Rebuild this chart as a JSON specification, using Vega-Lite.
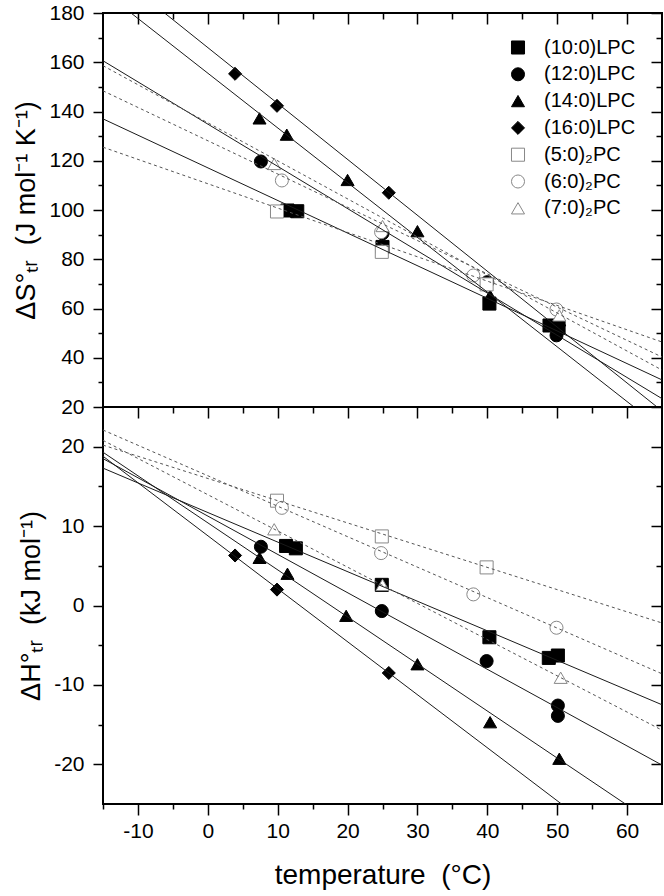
{
  "$schema": "https://vega.github.io/schema/vega-lite/v6.json",
  "usermeta": {"embedOptions": {"actions": false}},
  "padding": {"left": 11, "top": 1, "right": 3, "bottom": 0},
  "spacing": 0,
  "bounds": "flush",
  "config": {
    "font": "Liberation Sans",
    "view": {"stroke": "black", "strokeWidth": 2},
    "axis": {"labelFont": "Liberation Sans", "labelFontSize": 21, "labelColor": "black", "titleFont": "Liberation Sans", "titleFontSize": 27, "titleFontWeight": "normal", "titleColor": "black", "tickColor": "black", "tickWidth": 1.5, "grid": false, "domain": false},
    "legend": {"labelFont": "Liberation Sans", "labelFontSize": 20, "labelColor": "black"}
  },
  "resolve": {"scale": {"shape": "independent", "fill": "independent", "stroke": "independent"}},
  "datasets": {
    "fits": [
      {"panel": "S", "kind": "LPC", "series": "(10:0)LPC", "t": -15, "v": 137},
      {"panel": "S", "kind": "LPC", "series": "(10:0)LPC", "t": 65, "v": 31},
      {"panel": "S", "kind": "LPC", "series": "(12:0)LPC", "t": -15, "v": 160.6},
      {"panel": "S", "kind": "LPC", "series": "(12:0)LPC", "t": 65, "v": 23.4},
      {"panel": "S", "kind": "LPC", "series": "(14:0)LPC", "t": -15, "v": 188.9},
      {"panel": "S", "kind": "LPC", "series": "(14:0)LPC", "t": 65, "v": 11.1},
      {"panel": "S", "kind": "LPC", "series": "(16:0)LPC", "t": -15, "v": 200},
      {"panel": "S", "kind": "LPC", "series": "(16:0)LPC", "t": 65, "v": 18.4},
      {"panel": "S", "kind": "PC", "series": "(5:0)₂PC", "t": -15, "v": 125.5},
      {"panel": "S", "kind": "PC", "series": "(5:0)₂PC", "t": 65, "v": 46.4},
      {"panel": "S", "kind": "PC", "series": "(6:0)₂PC", "t": -15, "v": 148.4},
      {"panel": "S", "kind": "PC", "series": "(6:0)₂PC", "t": 65, "v": 40.3},
      {"panel": "S", "kind": "PC", "series": "(7:0)₂PC", "t": -15, "v": 158.6},
      {"panel": "S", "kind": "PC", "series": "(7:0)₂PC", "t": 65, "v": 35},
      {"panel": "H", "kind": "LPC", "series": "(10:0)LPC", "t": -15, "v": 17.3},
      {"panel": "H", "kind": "LPC", "series": "(10:0)LPC", "t": 65, "v": -12.5},
      {"panel": "H", "kind": "LPC", "series": "(12:0)LPC", "t": -15, "v": 18.5},
      {"panel": "H", "kind": "LPC", "series": "(12:0)LPC", "t": 65, "v": -20.1},
      {"panel": "H", "kind": "LPC", "series": "(14:0)LPC", "t": -15, "v": 19.3},
      {"panel": "H", "kind": "LPC", "series": "(14:0)LPC", "t": 65, "v": -28.1},
      {"panel": "H", "kind": "LPC", "series": "(16:0)LPC", "t": -15, "v": 18.8},
      {"panel": "H", "kind": "LPC", "series": "(16:0)LPC", "t": 65, "v": -34.6},
      {"panel": "H", "kind": "PC", "series": "(5:0)₂PC", "t": -15, "v": 20.2},
      {"panel": "H", "kind": "PC", "series": "(5:0)₂PC", "t": 65, "v": -2.2},
      {"panel": "H", "kind": "PC", "series": "(6:0)₂PC", "t": -15, "v": 22.1},
      {"panel": "H", "kind": "PC", "series": "(6:0)₂PC", "t": 65, "v": -8.6},
      {"panel": "H", "kind": "PC", "series": "(7:0)₂PC", "t": -15, "v": 20.8},
      {"panel": "H", "kind": "PC", "series": "(7:0)₂PC", "t": 65, "v": -15.7}
    ],
    "pts": [
      {"panel": "S", "series": "(10:0)LPC", "t": 11.4, "v": 99.8},
      {"panel": "S", "series": "(10:0)LPC", "t": 12.8, "v": 99.5},
      {"panel": "S", "series": "(10:0)LPC", "t": 25, "v": 85},
      {"panel": "S", "series": "(10:0)LPC", "t": 40.3, "v": 62},
      {"panel": "S", "series": "(10:0)LPC", "t": 48.9, "v": 53.1},
      {"panel": "S", "series": "(10:0)LPC", "t": 50.2, "v": 52.2},
      {"panel": "S", "series": "(12:0)LPC", "t": 7.6, "v": 119.7},
      {"panel": "S", "series": "(12:0)LPC", "t": 25, "v": 90.5},
      {"panel": "S", "series": "(12:0)LPC", "t": 40, "v": 70.7},
      {"panel": "S", "series": "(12:0)LPC", "t": 49.9, "v": 49.1},
      {"panel": "S", "series": "(12:0)LPC", "t": 50.1, "v": 51.5},
      {"panel": "S", "series": "(14:0)LPC", "t": 7.4, "v": 137.2},
      {"panel": "S", "series": "(14:0)LPC", "t": 11.3, "v": 130.6},
      {"panel": "S", "series": "(14:0)LPC", "t": 20, "v": 112.2},
      {"panel": "S", "series": "(14:0)LPC", "t": 30, "v": 91.4},
      {"panel": "S", "series": "(14:0)LPC", "t": 40.4, "v": 65.2},
      {"panel": "S", "series": "(14:0)LPC", "t": 50.3, "v": 55.2},
      {"panel": "S", "series": "(16:0)LPC", "t": 3.9, "v": 155.3},
      {"panel": "S", "series": "(16:0)LPC", "t": 9.9, "v": 142.3},
      {"panel": "S", "series": "(16:0)LPC", "t": 25.9, "v": 107},
      {"panel": "S", "series": "(5:0)₂PC", "t": 9.9, "v": 99.4},
      {"panel": "S", "series": "(5:0)₂PC", "t": 24.9, "v": 83},
      {"panel": "S", "series": "(5:0)₂PC", "t": 39.9, "v": 69.8},
      {"panel": "S", "series": "(6:0)₂PC", "t": 10.6, "v": 112},
      {"panel": "S", "series": "(6:0)₂PC", "t": 24.8, "v": 91},
      {"panel": "S", "series": "(6:0)₂PC", "t": 38, "v": 73.4},
      {"panel": "S", "series": "(6:0)₂PC", "t": 49.9, "v": 59.6},
      {"panel": "S", "series": "(7:0)₂PC", "t": 9.5, "v": 118.7},
      {"panel": "S", "series": "(7:0)₂PC", "t": 25, "v": 93.5},
      {"panel": "S", "series": "(7:0)₂PC", "t": 50.3, "v": 57.2},
      {"panel": "H", "series": "(10:0)LPC", "t": 11.2, "v": 7.5},
      {"panel": "H", "series": "(10:0)LPC", "t": 12.6, "v": 7.2},
      {"panel": "H", "series": "(10:0)LPC", "t": 24.9, "v": 2.6},
      {"panel": "H", "series": "(10:0)LPC", "t": 40.3, "v": -4.0},
      {"panel": "H", "series": "(10:0)LPC", "t": 48.8, "v": -6.6},
      {"panel": "H", "series": "(10:0)LPC", "t": 50.1, "v": -6.3},
      {"panel": "H", "series": "(12:0)LPC", "t": 7.6, "v": 7.4},
      {"panel": "H", "series": "(12:0)LPC", "t": 24.9, "v": -0.7},
      {"panel": "H", "series": "(12:0)LPC", "t": 39.9, "v": -7.0},
      {"panel": "H", "series": "(12:0)LPC", "t": 50.1, "v": -12.6},
      {"panel": "H", "series": "(12:0)LPC", "t": 50.1, "v": -13.9},
      {"panel": "H", "series": "(14:0)LPC", "t": 7.4, "v": 6.0},
      {"panel": "H", "series": "(14:0)LPC", "t": 11.4, "v": 4.0},
      {"panel": "H", "series": "(14:0)LPC", "t": 19.8, "v": -1.3},
      {"panel": "H", "series": "(14:0)LPC", "t": 30, "v": -7.4},
      {"panel": "H", "series": "(14:0)LPC", "t": 40.4, "v": -14.7},
      {"panel": "H", "series": "(14:0)LPC", "t": 50.3, "v": -19.3},
      {"panel": "H", "series": "(16:0)LPC", "t": 3.9, "v": 6.3},
      {"panel": "H", "series": "(16:0)LPC", "t": 9.9, "v": 2.0},
      {"panel": "H", "series": "(16:0)LPC", "t": 25.9, "v": -8.5},
      {"panel": "H", "series": "(5:0)₂PC", "t": 9.9, "v": 13.2},
      {"panel": "H", "series": "(5:0)₂PC", "t": 24.9, "v": 8.7},
      {"panel": "H", "series": "(5:0)₂PC", "t": 39.9, "v": 4.8},
      {"panel": "H", "series": "(6:0)₂PC", "t": 10.6, "v": 12.3},
      {"panel": "H", "series": "(6:0)₂PC", "t": 24.8, "v": 6.6},
      {"panel": "H", "series": "(6:0)₂PC", "t": 38, "v": 1.4},
      {"panel": "H", "series": "(6:0)₂PC", "t": 49.9, "v": -2.8},
      {"panel": "H", "series": "(7:0)₂PC", "t": 9.5, "v": 9.6},
      {"panel": "H", "series": "(7:0)₂PC", "t": 25, "v": 2.6},
      {"panel": "H", "series": "(7:0)₂PC", "t": 50.5, "v": -9.1}
    ]
  },
  "vconcat": [
    {
      "width": 559,
      "height": 394,
      "resolve": {"axis": {"x": "independent", "y": "independent"}},
      "layer": [
        {
          "data": {"name": "pts"},
          "transform": [{"filter": "datum.panel == 'S'"}],
          "mark": {"type": "point", "opacity": 1, "strokeWidth": 1, "size": 170},
          "encoding": {
            "x": {"field": "t", "type": "quantitative", "scale": {"domain": [-15, 65], "nice": false, "zero": false}, "axis": null},
            "y": {"field": "v", "type": "quantitative", "scale": {"domain": [20, 180], "nice": false, "zero": false}, "axis": {"orient": "right", "values": [20, 40, 60, 80, 100, 120, 140, 160, 180], "tickSize": -11, "labels": false, "title": null}},
            "shape": {"field": "series", "type": "nominal", "scale": {"domain": ["(10:0)LPC", "(12:0)LPC", "(14:0)LPC", "(16:0)LPC", "(5:0)₂PC", "(6:0)₂PC", "(7:0)₂PC"], "range": ["square", "circle", "triangle-up", "diamond", "square", "circle", "triangle-up"]}, "legend": {"title": null, "orient": "none", "legendX": 405, "legendY": 24.5, "padding": 0, "symbolSize": 170, "symbolStrokeWidth": 1, "labelOffset": 16, "rowPadding": 6.8}},
            "fill": {"field": "series", "type": "nominal", "scale": {"domain": ["(10:0)LPC", "(12:0)LPC", "(14:0)LPC", "(16:0)LPC", "(5:0)₂PC", "(6:0)₂PC", "(7:0)₂PC"], "range": ["black", "black", "black", "black", "white", "white", "white"]}, "legend": {"title": null, "orient": "none", "legendX": 405, "legendY": 24.5, "padding": 0, "symbolSize": 170, "symbolStrokeWidth": 1, "labelOffset": 16, "rowPadding": 6.8}},
            "stroke": {"field": "series", "type": "nominal", "scale": {"domain": ["(10:0)LPC", "(12:0)LPC", "(14:0)LPC", "(16:0)LPC", "(5:0)₂PC", "(6:0)₂PC", "(7:0)₂PC"], "range": ["black", "black", "black", "black", "#888888", "#888888", "#888888"]}, "legend": {"title": null, "orient": "none", "legendX": 405, "legendY": 24.5, "padding": 0, "symbolSize": 170, "symbolStrokeWidth": 1, "labelOffset": 16, "rowPadding": 6.8}}
          }
        },
        {
          "mark": {"type": "text", "text": "entropy", "fontSize": 27, "align": "left", "baseline": "alphabetic", "color": "black"},
          "encoding": {
            "x": {"datum": -8.2, "type": "quantitative", "axis": null},
            "y": {"datum": 31.5, "type": "quantitative", "axis": {"orient": "right", "values": [30, 50, 70, 90, 110, 130, 150, 170], "tickSize": -6, "labels": false, "title": null}}
          }
        },
        {
          "data": {"name": "fits"},
          "transform": [{"filter": "datum.panel == 'S' && datum.kind == 'LPC'"}],
          "mark": {"type": "line", "clip": true, "color": "#1a1a1a", "strokeWidth": 1},
          "encoding": {
            "x": {"field": "t", "type": "quantitative", "axis": {"orient": "top", "values": [-10, 0, 10, 20, 30, 40, 50, 60], "tickSize": -11, "labels": false, "title": null}},
            "y": {"field": "v", "type": "quantitative", "axis": {"orient": "left", "values": [20, 40, 60, 80, 100, 120, 140, 160, 180], "tickSize": 10, "labelPadding": 9, "labelExpr": "'' + datum.value", "title": "ΔS°ₜᵣ\u00a0 (J mol⁻¹ K⁻¹)", "titlePadding": 8}},
            "detail": {"field": "series", "type": "nominal"}
          }
        },
        {
          "data": {"name": "fits"},
          "transform": [{"filter": "datum.panel == 'S' && datum.kind == 'PC'"}],
          "mark": {"type": "line", "clip": true, "color": "#555555", "strokeWidth": 1, "strokeDash": [3, 3]},
          "encoding": {
            "x": {"field": "t", "type": "quantitative", "axis": {"orient": "top", "values": [-5, 5, 15, 25, 35, 45, 55], "tickSize": -6, "labels": false, "title": null}},
            "y": {"field": "v", "type": "quantitative", "axis": {"orient": "left", "values": [30, 50, 70, 90, 110, 130, 150, 170], "tickSize": 5, "labels": false, "title": null}},
            "detail": {"field": "series", "type": "nominal"}
          }
        }
      ]
    },
    {
      "width": 559,
      "height": 397,
      "resolve": {"axis": {"x": "independent", "y": "independent"}},
      "layer": [
        {
          "data": {"name": "pts"},
          "transform": [{"filter": "datum.panel == 'H'"}],
          "mark": {"type": "point", "opacity": 1, "strokeWidth": 1, "size": 170},
          "encoding": {
            "x": {"field": "t", "type": "quantitative", "scale": {"domain": [-15, 65], "nice": false, "zero": false}, "axis": {"orient": "top", "values": [-10, 0, 10, 20, 30, 40, 50, 60], "tickSize": -11, "labels": false, "title": null}},
            "y": {"field": "v", "type": "quantitative", "scale": {"domain": [-25, 25], "nice": false, "zero": false}, "axis": {"orient": "right", "values": [-20, -10, 0, 10, 20], "tickSize": -11, "labels": false, "title": null}},
            "shape": {"field": "series", "type": "nominal", "scale": {"domain": ["(10:0)LPC", "(12:0)LPC", "(14:0)LPC", "(16:0)LPC", "(5:0)₂PC", "(6:0)₂PC", "(7:0)₂PC"], "range": ["square", "circle", "triangle-up", "diamond", "square", "circle", "triangle-up"]}, "legend": null},
            "fill": {"field": "series", "type": "nominal", "scale": {"domain": ["(10:0)LPC", "(12:0)LPC", "(14:0)LPC", "(16:0)LPC", "(5:0)₂PC", "(6:0)₂PC", "(7:0)₂PC"], "range": ["black", "black", "black", "black", "white", "white", "white"]}, "legend": null},
            "stroke": {"field": "series", "type": "nominal", "scale": {"domain": ["(10:0)LPC", "(12:0)LPC", "(14:0)LPC", "(16:0)LPC", "(5:0)₂PC", "(6:0)₂PC", "(7:0)₂PC"], "range": ["black", "black", "black", "black", "#888888", "#888888", "#888888"]}, "legend": null}
          }
        },
        {
          "mark": {"type": "text", "text": "enthalpy", "fontSize": 27, "align": "left", "baseline": "alphabetic", "color": "black"},
          "encoding": {
            "x": {"datum": -8, "type": "quantitative", "axis": {"orient": "top", "values": [-5, 5, 15, 25, 35, 45, 55], "tickSize": -6, "labels": false, "title": null}},
            "y": {"datum": -20.6, "type": "quantitative", "axis": {"orient": "right", "values": [-15, -5, 5, 15], "tickSize": -6, "labels": false, "title": null}}
          }
        },
        {
          "data": {"name": "fits"},
          "transform": [{"filter": "datum.panel == 'H' && datum.kind == 'LPC'"}],
          "mark": {"type": "line", "clip": true, "color": "#1a1a1a", "strokeWidth": 1},
          "encoding": {
            "x": {"field": "t", "type": "quantitative", "axis": {"orient": "bottom", "values": [-10, 0, 10, 20, 30, 40, 50, 60], "tickSize": 11, "labelPadding": 5, "labelExpr": "'' + datum.value", "title": "temperature\u00a0\u00a0(°C)", "titleFontSize": 28, "titlePadding": 20}},
            "y": {"field": "v", "type": "quantitative", "axis": {"orient": "left", "values": [-20, -10, 0, 10, 20], "tickSize": 10, "labelPadding": 9, "labelExpr": "'' + datum.value", "title": "ΔH°ₜᵣ\u00a0 (kJ mol⁻¹)", "titlePadding": 8}},
            "detail": {"field": "series", "type": "nominal"}
          }
        },
        {
          "data": {"name": "fits"},
          "transform": [{"filter": "datum.panel == 'H' && datum.kind == 'PC'"}],
          "mark": {"type": "line", "clip": true, "color": "#555555", "strokeWidth": 1, "strokeDash": [3, 3]},
          "encoding": {
            "x": {"field": "t", "type": "quantitative", "axis": {"orient": "bottom", "values": [-15, -5, 5, 15, 25, 35, 45, 55], "tickSize": 5, "labels": false, "title": null}},
            "y": {"field": "v", "type": "quantitative", "axis": {"orient": "left", "values": [-15, -5, 5, 15], "tickSize": 5, "labels": false, "title": null}},
            "detail": {"field": "series", "type": "nominal"}
          }
        }
      ]
    }
  ]
}
